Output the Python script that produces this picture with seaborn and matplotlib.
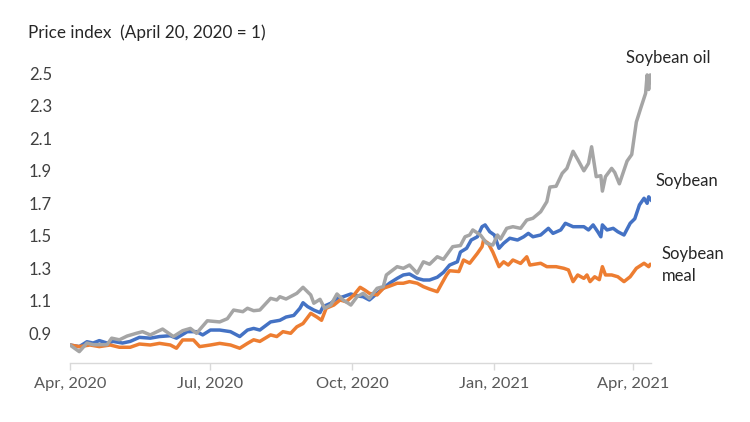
import matplotlib
matplotlib.use("Agg")
import matplotlib.pyplot as plt
import matplotlib.dates as mdates
import numpy as np
import pandas as pd
import seaborn as sns

# ---- data (days since 2020-04-01, price index with April 20, 2020 = 1) ----
start_date = "2020-04-01"

soybean_days = [0, 6, 11, 15, 19, 24, 28, 34, 39, 45, 52, 58, 65, 69, 76, 82, 86, 91, 97, 104,
                110, 115, 119, 123, 130, 136, 140, 145, 149, 151, 154, 158, 162, 164, 169, 173, 177,
                182, 186, 190, 194, 199, 203, 207, 212, 216, 220, 225, 229, 233, 238, 242, 246, 251,
                253, 257, 260, 264, 267, 269, 272, 275, 278, 281, 285, 290, 294, 297, 300, 305, 310,
                313, 318, 321, 326, 333, 336, 339, 342, 344, 345, 348, 352, 355, 359, 363, 366, 369,
                372, 374, 375, 377]
soybean_vals = [0.828, 0.818, 0.848, 0.840, 0.855, 0.840, 0.850, 0.840, 0.850, 0.875, 0.870, 0.880,
                0.885, 0.870, 0.910, 0.910, 0.890, 0.920, 0.920, 0.910, 0.880, 0.920, 0.930, 0.920,
                0.970, 0.980, 1.000, 1.010, 1.054, 1.088, 1.064, 1.043, 1.027, 1.064, 1.085, 1.115,
                1.125, 1.142, 1.130, 1.125, 1.105, 1.146, 1.177, 1.208, 1.238, 1.259, 1.265, 1.238,
                1.228, 1.228, 1.245, 1.275, 1.320, 1.340, 1.400, 1.423, 1.474, 1.494, 1.556, 1.567,
                1.525, 1.505, 1.423, 1.454, 1.485, 1.474, 1.494, 1.515, 1.494, 1.505, 1.546, 1.515,
                1.536, 1.577, 1.556, 1.556, 1.536, 1.567, 1.525, 1.494, 1.567, 1.536, 1.546, 1.525,
                1.505, 1.577, 1.605, 1.690, 1.731, 1.700, 1.740, 1.715]

meal_days = [0, 6, 13, 19, 26, 32, 39, 45, 52, 58, 65, 69, 73, 80, 84, 91, 97, 104, 110, 115,
             119, 123, 130, 134, 138, 143, 147, 151, 156, 160, 163, 166, 171, 175, 179, 184, 188,
             191, 194, 199, 203, 207, 212, 216, 220, 225, 229, 233, 238, 241, 244, 246, 252, 255,
             259, 264, 267, 268, 271, 274, 278, 281, 284, 287, 292, 296, 298, 305, 309, 315, 320,
             323, 326, 329, 333, 335, 337, 340, 343, 345, 347, 351, 355, 359, 363, 367, 372, 375,
             376]
meal_vals = [0.828, 0.818, 0.828, 0.818, 0.828, 0.814, 0.814, 0.834, 0.828, 0.838, 0.828, 0.808,
             0.859, 0.859, 0.818, 0.828, 0.838, 0.828, 0.808, 0.838, 0.860, 0.850, 0.890, 0.880,
             0.910, 0.900, 0.940, 0.960, 1.023, 1.000, 0.980, 1.054, 1.074, 1.105, 1.094, 1.136,
             1.183, 1.166, 1.146, 1.136, 1.177, 1.190, 1.208, 1.208, 1.218, 1.208, 1.187, 1.172,
             1.156, 1.208, 1.259, 1.285, 1.280, 1.351, 1.331, 1.392, 1.433, 1.474, 1.454, 1.400,
             1.310, 1.340, 1.320, 1.351, 1.330, 1.371, 1.320, 1.331, 1.310, 1.310, 1.300, 1.290,
             1.218, 1.259, 1.238, 1.259, 1.218, 1.248, 1.230, 1.310, 1.259, 1.259, 1.248, 1.218,
             1.248, 1.300, 1.331, 1.310, 1.325]

oil_days = [0, 6, 11, 15, 24, 27, 32, 37, 43, 47, 52, 60, 67, 73, 78, 82, 89, 97, 102, 106,
            112, 115, 119, 123, 130, 134, 136, 140, 147, 151, 156, 158, 162, 165, 169, 173, 177,
            182, 186, 190, 194, 199, 203, 205, 212, 216, 220, 225, 229, 233, 238, 242, 248, 253,
            256, 259, 261, 266, 270, 274, 277, 279, 283, 287, 292, 296, 300, 305, 309, 311, 315,
            319, 322, 326, 329, 333, 336, 338, 341, 344, 345, 347, 351, 353, 356, 361, 364, 367,
            370, 373, 374, 375, 376, 377]
oil_vals = [0.828, 0.787, 0.840, 0.830, 0.830, 0.870, 0.860, 0.883, 0.900, 0.910, 0.890, 0.926,
            0.880, 0.916, 0.930, 0.900, 0.977, 0.970, 0.990, 1.043, 1.033, 1.054, 1.039, 1.043,
            1.115, 1.105, 1.125, 1.111, 1.146, 1.183, 1.136, 1.085, 1.109, 1.054, 1.074, 1.142,
            1.105, 1.074, 1.125, 1.146, 1.115, 1.177, 1.187, 1.259, 1.310, 1.300, 1.320, 1.270,
            1.340, 1.325, 1.371, 1.355, 1.433, 1.440, 1.494, 1.505, 1.536, 1.505, 1.454, 1.443,
            1.505, 1.480, 1.546, 1.556, 1.546, 1.597, 1.608, 1.648, 1.710, 1.800, 1.805, 1.885,
            1.915, 2.020, 1.970, 1.900, 1.946, 2.048, 1.864, 1.870, 1.775, 1.864, 1.915, 1.890,
            1.820, 1.960, 2.000, 2.200, 2.290, 2.377, 2.490, 2.400, 2.490, 2.480]

series_names = ["Soybean", "Soybean meal", "Soybean oil"]
series_colors = ["#4472C4", "#ED7D31", "#A5A5A5"]

y_ticks = [0.9, 1.1, 1.3, 1.5, 1.7, 1.9, 2.1, 2.3, 2.5]
x_tick_dates = ["2020-04-01", "2020-07-01", "2020-10-01", "2021-01-01", "2021-04-01"]

# ---- build long table ----
base = pd.Timestamp(start_date)
frames = []
for name, d, v in [("Soybean", soybean_days, soybean_vals),
                   ("Soybean meal", meal_days, meal_vals),
                   ("Soybean oil", oil_days, oil_vals)]:
    frames.append(pd.DataFrame({"date": base + pd.to_timedelta(d, unit="D"),
                                "value": v, "series": name}))
df = pd.concat(frames, ignore_index=True)

# ---- style ----
sns.set_theme(style="white")
plt.rcParams["font.family"] = ["Lato", "DejaVu Sans"]

W, H = 750, 422
fig = plt.figure(figsize=(W / 100, H / 100), dpi=100)
ax_left, ax_right, ax_top, ax_bottom = 70, 651, 32.7, 362.7
ax = fig.add_axes([ax_left / W, 1 - ax_bottom / H, (ax_right - ax_left) / W, (ax_bottom - ax_top) / H])

sns.lineplot(data=df, x="date", y="value", hue="series", hue_order=series_names,
             palette=dict(zip(series_names, series_colors)), estimator=None,
             linewidth=2.5, legend=False, ax=ax)
for ln in ax.lines:
    ln.set_solid_joinstyle("round")
    ln.set_solid_capstyle("round")

ax.set_ylim(0.719, 2.75)
ax.set_xlim(base, base + pd.Timedelta(days=376.5))
ax.set_yticks(y_ticks)
ax.set_yticklabels([f"{t:.1f}" for t in y_ticks])
ax.set_xticks(pd.to_datetime(x_tick_dates))
ax.xaxis.set_major_formatter(mdates.DateFormatter("%b, %Y"))
ax.set_xlabel("")
ax.set_ylabel("")

for s in ["top", "right", "left"]:
    ax.spines[s].set_visible(False)
ax.spines["bottom"].set_color("#D9D9D9")
ax.spines["bottom"].set_linewidth(1.0)
ax.tick_params(axis="y", length=0, pad=13, labelsize=12, labelcolor="#404040")
ax.tick_params(axis="x", direction="out", length=5, width=1, color="#D9D9D9",
               pad=5, labelsize=11.8, labelcolor="#595959", bottom=True)

# ---- texts ----
fig.text(28 / W, 1 - 33 / H, "Price index  (April 20, 2020 = 1)", ha="left", va="center",
         fontsize=12.3, color="#262626")
fig.text(668 / W, 1 - 58 / H, "Soybean oil", ha="center", va="center", fontsize=12, color="#262626")
fig.text(655 / W, 1 - 181 / H, "Soybean", ha="left", va="center", fontsize=12, color="#262626")
fig.text(662 / W, 1 - 265 / H, "Soybean\nmeal", ha="left", va="center", fontsize=12,
         color="#262626", linespacing=1.45)

fig.savefig("out.png", dpi=100)
